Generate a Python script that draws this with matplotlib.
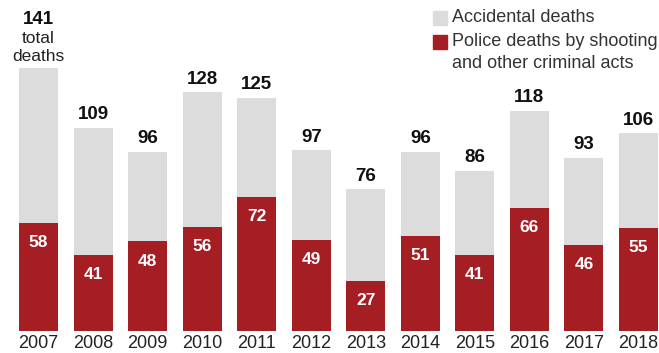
import numpy as np
import matplotlib.pyplot as plt
import matplotlib.patches as mpatches

years = ['2007', '2008', '2009', '2010', '2011', '2012', '2013', '2014', '2015', '2016', '2017', '2018']
total_deaths = [141, 109, 96, 128, 125, 97, 76, 96, 86, 118, 93, 106]
police_deaths = [58, 41, 48, 56, 72, 49, 27, 51, 41, 66, 46, 55]

red = '#a51e23'
grey = '#dcdcdd'

plt.rcParams['font.family'] = ['Liberation Sans', 'DejaVu Sans']

fig = plt.figure(figsize=(6.59, 3.53), dpi=100)
ax = fig.add_axes([0, 22 / 353, 1, 263 / 353])

x = np.arange(len(years))
accidental = np.array(total_deaths) - np.array(police_deaths)
bar_width = 0.715
ax.bar(x, police_deaths, width=bar_width, color=red, zorder=2)
ax.bar(x, accidental, bottom=police_deaths, width=bar_width, color=grey, zorder=2)

ax.set_xlim(-0.706, 11.375)
ax.set_ylim(0, 141)
ax.axis('off')

for i in range(len(years)):
    # year under the bar
    ax.text(x[i], -6.8, years[i], ha='center', va='center', fontsize=13, color='#222222', clip_on=False)
    # police count inside red part
    ax.text(x[i], police_deaths[i] - 10.5, str(police_deaths[i]), ha='center', va='center',
            fontsize=12.5, fontweight='bold', color='white')
    # total on top
    if i == 0:
        ax.text(x[i], total_deaths[i] + 26, str(total_deaths[i]), ha='center', va='center',
                fontsize=13.5, fontweight='bold', color='#111111', clip_on=False)
        ax.text(x[i], total_deaths[i] + 16, 'total', ha='center', va='center',
                fontsize=12.5, color='#222222', clip_on=False)
        ax.text(x[i], total_deaths[i] + 6, 'deaths', ha='center', va='center',
                fontsize=12.5, color='#222222', clip_on=False)
    else:
        ax.text(x[i], total_deaths[i] + 7, str(total_deaths[i]), ha='center', va='center',
                fontsize=13.5, fontweight='bold', color='#111111', clip_on=False)

# Legend
fig.patches.append(mpatches.Rectangle((433 / 659, 1 - 25 / 353), 14 / 659, 14 / 353,
                                      transform=fig.transFigure, color=grey))
fig.patches.append(mpatches.Rectangle((433 / 659, 1 - 49 / 353), 14 / 659, 14 / 353,
                                      transform=fig.transFigure, color=red))
fig.text(452 / 659, 1 - 18 / 353, 'Accidental deaths', ha='left', va='center', fontsize=13, color='#333333')
fig.text(452 / 659, 1 - 42 / 353, 'Police deaths by shooting', ha='left', va='center', fontsize=13, color='#333333')
fig.text(452 / 659, 1 - 64 / 353, 'and other criminal acts', ha='left', va='center', fontsize=13, color='#333333')

plt.savefig('out.png', dpi=100)
